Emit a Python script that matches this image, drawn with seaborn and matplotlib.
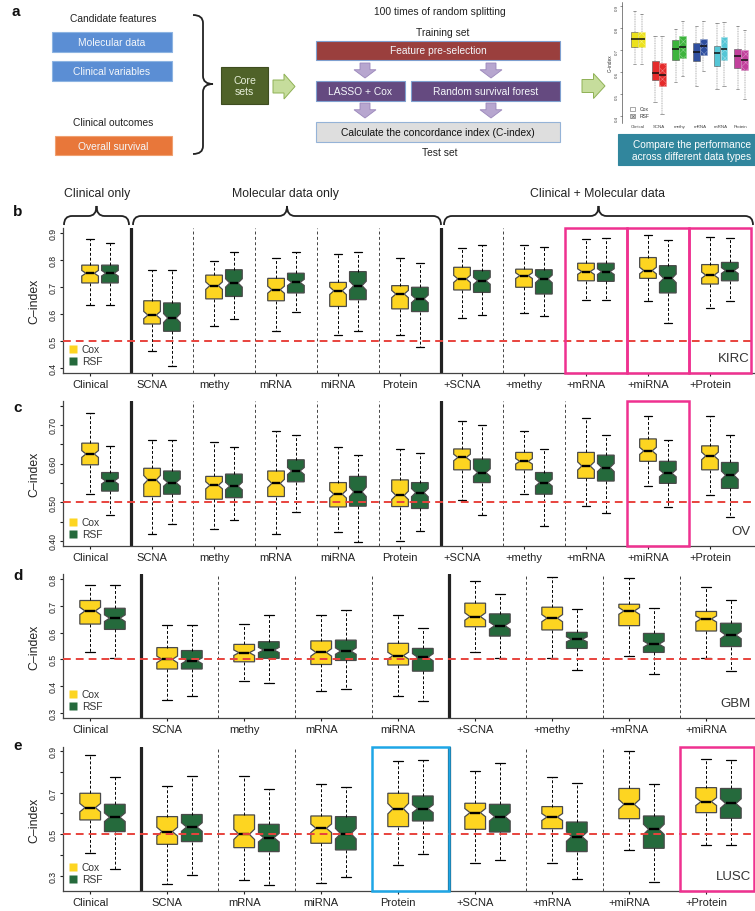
import numpy as np
import pandas as pd
import matplotlib
matplotlib.use("Agg")
import matplotlib.pyplot as plt
import matplotlib.transforms as mtransforms
from matplotlib.patches import Rectangle, Polygon, PathPatch
from matplotlib.path import Path
import seaborn as sns

sns.set_theme(style="ticks")
plt.rcParams["font.family"] = ["Liberation Sans", "DejaVu Sans"]
plt.rcParams["hatch.linewidth"] = 0.35

W, H = 755, 912
RUNS = 100  # random splits behind each box

# ---------- data: five-number summaries ---------------------------------
# (low whisker, Q1, median, Q3, high whisker)
KIRC_CATS = ["Clinical", "SCNA", "methy", "mRNA", "miRNA", "Protein",
             "+SCNA", "+methy", "+mRNA", "+miRNA", "+Protein"]
KIRC_COX = [(0.634, 0.715, 0.751, 0.781, 0.878), (0.463, 0.563, 0.596, 0.649, 0.763),
            (0.554, 0.656, 0.705, 0.744, 0.796), (0.537, 0.649, 0.690, 0.732, 0.809),
            (0.522, 0.628, 0.686, 0.717, 0.821), (0.523, 0.619, 0.674, 0.705, 0.809),
            (0.585, 0.689, 0.730, 0.773, 0.844), (0.603, 0.699, 0.742, 0.766, 0.856),
            (0.653, 0.723, 0.757, 0.788, 0.878), (0.647, 0.732, 0.761, 0.809, 0.893),
            (0.621, 0.711, 0.744, 0.783, 0.884)]
KIRC_RSF = [(0.634, 0.715, 0.751, 0.781, 0.863), (0.409, 0.536, 0.585, 0.641, 0.763),
            (0.580, 0.665, 0.715, 0.764, 0.831), (0.606, 0.678, 0.717, 0.751, 0.831),
            (0.537, 0.653, 0.705, 0.757, 0.828), (0.479, 0.609, 0.656, 0.699, 0.789),
            (0.596, 0.680, 0.723, 0.761, 0.856), (0.591, 0.674, 0.730, 0.764, 0.847),
            (0.652, 0.721, 0.757, 0.788, 0.881), (0.565, 0.678, 0.732, 0.779, 0.874),
            (0.647, 0.723, 0.761, 0.791, 0.881)]

OV_CATS = KIRC_CATS
OV_COX = [(0.521, 0.597, 0.625, 0.653, 0.731), (0.419, 0.515, 0.558, 0.588, 0.662),
          (0.430, 0.508, 0.544, 0.567, 0.655), (0.417, 0.515, 0.549, 0.581, 0.684),
          (0.423, 0.488, 0.521, 0.551, 0.642), (0.401, 0.489, 0.518, 0.558, 0.638),
          (0.506, 0.584, 0.616, 0.638, 0.709), (0.521, 0.584, 0.606, 0.629, 0.685),
          (0.490, 0.562, 0.594, 0.629, 0.717), (0.542, 0.606, 0.633, 0.664, 0.723),
          (0.518, 0.584, 0.620, 0.646, 0.723)]
OV_RSF = [(0.466, 0.529, 0.555, 0.577, 0.645), (0.443, 0.521, 0.551, 0.581, 0.662),
          (0.454, 0.512, 0.542, 0.573, 0.644), (0.476, 0.553, 0.581, 0.610, 0.675),
          (0.397, 0.490, 0.527, 0.567, 0.622), (0.425, 0.484, 0.525, 0.551, 0.627),
          (0.466, 0.551, 0.577, 0.612, 0.700), (0.438, 0.521, 0.551, 0.577, 0.638),
          (0.473, 0.555, 0.590, 0.622, 0.674), (0.488, 0.549, 0.575, 0.606, 0.661),
          (0.463, 0.536, 0.570, 0.603, 0.674)]

GBM_CATS = ["Clinical", "SCNA", "methy", "mRNA", "miRNA",
            "+SCNA", "+methy", "+mRNA", "+miRNA"]
GBM_COX = [(0.529, 0.632, 0.681, 0.720, 0.778), (0.348, 0.464, 0.500, 0.544, 0.629),
           (0.421, 0.491, 0.525, 0.556, 0.631), (0.381, 0.481, 0.526, 0.569, 0.666),
           (0.364, 0.479, 0.514, 0.560, 0.664), (0.529, 0.622, 0.660, 0.710, 0.793),
           (0.504, 0.610, 0.654, 0.695, 0.807), (0.512, 0.626, 0.681, 0.706, 0.803),
           (0.504, 0.606, 0.651, 0.679, 0.772)]
GBM_RSF = [(0.505, 0.612, 0.654, 0.691, 0.778), (0.364, 0.464, 0.495, 0.533, 0.627),
           (0.410, 0.504, 0.535, 0.566, 0.666), (0.389, 0.496, 0.531, 0.572, 0.685),
           (0.344, 0.456, 0.508, 0.541, 0.619), (0.506, 0.587, 0.626, 0.670, 0.746),
           (0.460, 0.541, 0.575, 0.601, 0.688), (0.444, 0.526, 0.557, 0.597, 0.691),
           (0.456, 0.548, 0.591, 0.635, 0.720)]

LUSC_CATS = ["Clinical", "SCNA", "mRNA", "miRNA", "Protein",
             "+SCNA", "+mRNA", "+miRNA", "+Protein"]
LUSC_COX = [(0.409, 0.569, 0.628, 0.697, 0.881), (0.263, 0.452, 0.513, 0.585, 0.732),
            (0.279, 0.436, 0.500, 0.593, 0.780), (0.268, 0.457, 0.529, 0.588, 0.740),
            (0.353, 0.537, 0.623, 0.697, 0.853), (0.361, 0.524, 0.604, 0.649, 0.804),
            (0.364, 0.527, 0.583, 0.633, 0.773), (0.425, 0.575, 0.644, 0.720, 0.898),
            (0.447, 0.604, 0.657, 0.724, 0.861)]
LUSC_RSF = [(0.332, 0.513, 0.582, 0.644, 0.773), (0.303, 0.465, 0.535, 0.595, 0.780),
            (0.256, 0.417, 0.484, 0.548, 0.716), (0.295, 0.425, 0.503, 0.585, 0.729),
            (0.404, 0.564, 0.623, 0.684, 0.856), (0.376, 0.511, 0.585, 0.644, 0.840),
            (0.284, 0.417, 0.489, 0.559, 0.748), (0.271, 0.433, 0.524, 0.588, 0.740),
            (0.449, 0.577, 0.648, 0.720, 0.857)]

# small overview chart in panel a shows the KIRC single-data-type results
MINI_CATS = KIRC_CATS[:6]
MINI_COX = KIRC_COX[:6]
MINI_RSF = KIRC_RSF[:6]

YELLOW, GREEN = "#fdd521", "#256a3c"
EDGE = "#4a4a4a"
RED = "#e8433d"
PINK, CYAN = "#ef3190", "#1ea6e6"
MINI_COLORS = ["#ece21d", "#e52b2b", "#3db43d", "#2f4f9f", "#55c6d6", "#c2409c"]


def long_table(cats, cox, rsf):
    rows = []
    for cat, c, r in zip(cats, cox, rsf):
        for method, five in (("Cox", c), ("RSF", r)):
            # every summary value stands for a fifth of the 100 splits
            for v in np.repeat(five, RUNS // 5):
                rows.append((cat, method, v))
    return pd.DataFrame(rows, columns=["data", "method", "cindex"])


fig = plt.figure(figsize=(W / 100, H / 100), dpi=100)


def px_axes(left, top, right, bottom):
    return fig.add_axes([left / W, 1 - bottom / H, (right - left) / W, (bottom - top) / H])


# ---------- overlay in pixel coordinates (panel a, braces, letters) ----------
ov = fig.add_axes([0, 0, 1, 1])
ov.set_xlim(0, W)
ov.set_ylim(H, 0)
ov.axis("off")


def box(x0, y0, x1, y1, fc, ec, text=None, tc="#f4f7fb", fs=7.4):
    ov.add_patch(Rectangle((x0, y0), x1 - x0, y1 - y0, fc=fc, ec=ec, lw=0.8))
    if text:
        ov.text((x0 + x1) / 2, (y0 + y1) / 2, text, ha="center", va="center",
                color=tc, fontsize=fs, linespacing=1.15)


def down_arrow(xc, y0, y1):
    ym = y0 + 0.45 * (y1 - y0)
    pts = [(xc - 5, y0), (xc + 5, y0), (xc + 5, ym), (xc + 11, ym), (xc, y1),
           (xc - 11, ym), (xc - 5, ym)]
    ov.add_patch(Polygon(pts, closed=True, fc="#b7a6cf", ec="#9a86ba", lw=0.6))


def right_arrow(x0, x1, yc):
    xm = x0 + 0.5 * (x1 - x0)
    pts = [(x0, yc - 6.5), (xm, yc - 6.5), (xm, yc - 12.5), (x1, yc), (xm, yc + 12.5),
           (xm, yc + 6.5), (x0, yc + 6.5)]
    ov.add_patch(Polygon(pts, closed=True, fc="#c6dd9c", ec="#8fb155", lw=0.7))


def hbrace(x0, x1, y_end, y_mid, y_tip, r=8):
    xm = (x0 + x1) / 2
    verts = [(x0, y_end), (x0, y_mid), (x0 + r, y_mid), (xm - r, y_mid),
             (xm, y_mid), (xm, y_tip), (xm, y_mid), (xm + r, y_mid),
             (x1 - r, y_mid), (x1, y_mid), (x1, y_end)]
    codes = [Path.MOVETO, Path.CURVE3, Path.CURVE3, Path.LINETO,
             Path.CURVE3, Path.CURVE3, Path.CURVE3, Path.CURVE3,
             Path.LINETO, Path.CURVE3, Path.CURVE3]
    ov.add_patch(PathPatch(Path(verts, codes), fc="none", ec="#222222", lw=1.3))


# panel a: workflow
ov.text(113, 19.5, "Candidate features", ha="center", va="center", fontsize=7.4, color="#222")
box(52, 33, 172, 53, "#5b8ed4", "#8db4e2", "Molecular data")
box(52, 62, 172, 82, "#5b8ed4", "#8db4e2", "Clinical variables")
ov.text(113, 123, "Clinical outcomes", ha="center", va="center", fontsize=7.4, color="#222")
box(55, 137, 172, 156, "#e8773a", "#f0a070", "Overall survival")

verts = [(193, 16), (203, 16), (203, 24), (203, 77), (203, 85), (213, 85),
         (203, 85), (203, 93), (203, 147), (203, 155), (193, 155)]
codes = [Path.MOVETO, Path.CURVE3, Path.CURVE3, Path.LINETO, Path.CURVE3, Path.CURVE3,
         Path.CURVE3, Path.CURVE3, Path.LINETO, Path.CURVE3, Path.CURVE3]
ov.add_patch(PathPatch(Path(verts, codes), fc="none", ec="#222222", lw=1.3))

box(221, 68, 268, 105, "#4f6228", "#3e4d20", "Core\nsets", tc="#e6eed8", fs=7.6)
right_arrow(273, 295, 87.5)

ov.text(440, 12, "100 times of random splitting", ha="center", va="center", fontsize=7.4, color="#222")
ov.text(443, 33, "Training set", ha="center", va="center", fontsize=7.4, color="#222")
box(316, 42, 560, 61, "#9a3f3d", "#7fa0d0", "Feature pre-selection")
down_arrow(365, 64, 79)
down_arrow(491, 64, 79)
box(316, 82, 405, 102, "#654a80", "#7fa0d0", "LASSO + Cox")
box(411, 82, 560, 102, "#654a80", "#7fa0d0", "Random survival forest")
down_arrow(365, 104, 119)
down_arrow(491, 104, 119)
box(316, 123, 560, 143, "#dedede", "#95b3d7", "Calculate the concordance index (C-index)",
    tc="#111111")
ov.text(440, 153, "Test set", ha="center", va="center", fontsize=7.4, color="#222")
right_arrow(582, 605, 87)

box(618, 135, 755, 166, "#31869d", "#31869d")
ov.text(692, 145, "Compare the performance", ha="center", va="center", fontsize=7.3, color="white")
ov.text(692, 157, "across different data types", ha="center", va="center", fontsize=7.3, color="white")

# braces above panel b
hbrace(64, 129, 226, 217, 207)
hbrace(133, 441, 226, 217, 207)
hbrace(444, 753, 226, 217, 207)
ov.text(97, 194, "Clinical only", ha="center", va="center", fontsize=8.8, color="#222")
ov.text(285, 194, "Molecular data only", ha="center", va="center", fontsize=8.8, color="#222")
ov.text(597, 194, "Clinical + Molecular data", ha="center", va="center", fontsize=8.8, color="#222")

for letter, yy in (("a", 12.5), ("b", 212), ("c", 408), ("d", 576), ("e", 746)):
    ov.text(11 if letter == "a" else 13, yy, letter, ha="left", va="center",
            fontsize=11, fontweight="bold", color="#111")

# ---------- mini overview chart (panel a, right) ----------------------
axm = px_axes(622, 3, 755, 124)
mini_df = long_table(MINI_CATS, MINI_COX, MINI_RSF)
sns.boxplot(data=mini_df, x="data", y="cindex", hue="method", order=MINI_CATS,
            hue_order=["Cox", "RSF"], palette=["#888888", "#888888"], saturation=1,
            width=0.68, gap=0.04, whis=(0, 100), showfliers=False,
            linecolor="#555555", linewidth=0.4,
            medianprops=dict(color="#111111", linewidth=1.1),
            whiskerprops=dict(color="#555555", linewidth=0.35, linestyle=(0, (2, 1.5))),
            capprops=dict(color="#555555", linewidth=0.4),
            legend=False, ax=axm)
n_mini = len(MINI_CATS)
for i, patch in enumerate(axm.patches):
    col = np.array(matplotlib.colors.to_rgb(MINI_COLORS[i % n_mini]))
    patch.set_facecolor(col)
    if i >= n_mini:
        patch.set_hatch("xxxx")
        patch.set_edgecolor(0.55 * col + 0.45)
axm.set_xlim(-0.78, 5.68)
axm.set_ylim(0.369, 0.917)
axm.set_xticks(np.arange(n_mini), MINI_CATS)
axm.set_yticks([0.4, 0.5, 0.6, 0.7, 0.8, 0.9])
axm.tick_params(axis="both", labelsize=3.2, length=1.5, width=0.4, pad=1, colors="#444")
axm.tick_params(axis="y", labelrotation=90)
axm.set_xlabel("")
axm.set_ylabel("C\u2013index", fontsize=3.4, labelpad=1.5, color="#333")
sns.despine(ax=axm, bottom=True)
axm.spines["left"].set_linewidth(0.4)
axm.tick_params(axis="x", length=0)
for j, (name, hatch) in enumerate((("Cox", None), ("RSF", "xxxx"))):
    axm.add_patch(Rectangle((0.06, 0.10 - j * 0.06), 0.035, 0.035, transform=axm.transAxes,
                            fc="white" if hatch is None else "#d8d8d8", ec="#666666",
                            lw=0.4, hatch=hatch))
    axm.text(0.13, 0.118 - j * 0.06, name, transform=axm.transAxes, fontsize=3.6,
             va="center", ha="left", color="#333")

# ---------- panels b-e ------------------------------------------------
PANELS = [
    dict(tag="KIRC", cats=KIRC_CATS, cox=KIRC_COX, rsf=KIRC_RSF, top=229, bottom=374,
         right=754, xlim=(-0.597, 10.55), ylim=(0.3815, 0.9185),
         yticks=[0.4, 0.5, 0.6, 0.7, 0.8, 0.9],
         ylabels=["0.4", "0.5", "0.6", "0.7", "0.8", "0.9"],
         thick=[0.5, 5.5], marks=[(8, PINK), (9, PINK), (10, PINK)]),
    dict(tag="OV", cats=OV_CATS, cox=OV_COX, rsf=OV_RSF, top=402, bottom=547,
         right=754, xlim=(-0.597, 10.55), ylim=(0.387, 0.762),
         yticks=[0.40, 0.45, 0.50, 0.55, 0.60, 0.65, 0.70, 0.75],
         ylabels=["0.40", "", "0.50", "", "0.60", "", "0.70", ""],
         thick=[0.5, 5.5], marks=[(9, PINK)]),
    dict(tag="GBM", cats=GBM_CATS, cox=GBM_COX, rsf=GBM_RSF, top=575, bottom=719,
         right=755, xlim=(-0.513, 8.474), ylim=(0.281, 0.819),
         yticks=[0.3, 0.4, 0.5, 0.6, 0.7, 0.8],
         ylabels=["0.3", "0.4", "0.5", "0.6", "0.7", "0.8"],
         thick=[0.5, 4.5], marks=[]),
    dict(tag="LUSC", cats=LUSC_CATS, cox=LUSC_COX, rsf=LUSC_RSF, top=748, bottom=892,
         right=755, xlim=(-0.513, 8.474), ylim=(0.228, 0.919),
         yticks=[0.3, 0.4, 0.5, 0.6, 0.7, 0.8, 0.9],
         ylabels=["0.3", "", "0.5", "", "0.7", "", "0.9"],
         thick=[0.5, 4.5], marks=[(4, CYAN), (8, PINK)]),
]

for p in PANELS:
    left = 63
    aw, ah = p["right"] - left, p["bottom"] - p["top"]
    ax = px_axes(left, p["top"], p["right"], p["bottom"])
    df = long_table(p["cats"], p["cox"], p["rsf"])
    sns.boxplot(data=df, x="data", y="cindex", hue="method", order=p["cats"],
                hue_order=["Cox", "RSF"], palette=[YELLOW, GREEN], saturation=1,
                width=0.64, gap=0.16, whis=(0, 100), notch=True, showfliers=False,
                linecolor=EDGE, linewidth=0.9,
                medianprops=dict(color="black", linewidth=1.7),
                whiskerprops=dict(color="black", linewidth=0.7, linestyle=(0, (3, 2))),
                capprops=dict(color="black", linewidth=0.9),
                legend=False, ax=ax)
    n = len(p["cats"])
    ax.set_xlim(p["xlim"])
    ax.set_ylim(p["ylim"])

    for k in range(n - 1):
        b = k + 0.5
        if b in p["thick"]:
            ax.axvline(b, color="#222222", lw=2.3, zorder=1)
        else:
            ax.axvline(b, color="#444444", lw=0.7, ls=(0, (3, 2.5)), zorder=1)
    ax.axhline(0.5, color=RED, lw=1.4, ls=(0, (4, 2.6)), zorder=6)

    trans = mtransforms.blended_transform_factory(ax.transData, ax.transAxes)
    for g, col in p["marks"]:
        x0, x1 = g - 0.5, min(g + 0.5, p["xlim"][1] - 0.01)
        ax.add_patch(Rectangle((x0, 0), x1 - x0, 1, transform=trans, fill=False,
                               ec=col, lw=1.8, zorder=7, clip_on=False))

    ax.set_xticks(np.arange(n) - 0.16, p["cats"])
    ax.set_yticks(p["yticks"], p["ylabels"])
    ax.tick_params(axis="x", labelsize=8, length=2.5, width=0.8, pad=1.5, colors="#222")
    ax.tick_params(axis="y", labelsize=6.3, length=2.5, width=0.8, pad=1.5,
                   labelrotation=90, colors="#222")
    for t in ax.get_yticklabels():
        t.set_va("center")
    ax.set_xlabel("")
    ax.set_ylabel("C\u2013index", fontsize=8.8, color="#222")
    ax.yaxis.set_label_coords((40 - left) / aw, 0.5)
    sns.despine(ax=ax)
    for side in ("left", "bottom"):
        ax.spines[side].set_color("#444444")
        ax.spines[side].set_linewidth(0.9)

    for j, (name, col) in enumerate((("Cox", YELLOW), ("RSF", GREEN))):
        yf = (24 - 12 * j) / ah
        ax.plot([(73 - left) / aw], [yf], marker="s", ms=6, color=col, mec="none",
                transform=ax.transAxes, clip_on=False, zorder=8)
        ax.text((82 - left) / aw, yf, name, transform=ax.transAxes, fontsize=7.4,
                va="center", ha="left", color="#333")
    ax.text(1 - 4 / aw, 15 / ah, p["tag"], transform=ax.transAxes, fontsize=9.5,
            ha="right", va="center", color="#333", zorder=8)

fig.savefig("out.png", dpi=100)
